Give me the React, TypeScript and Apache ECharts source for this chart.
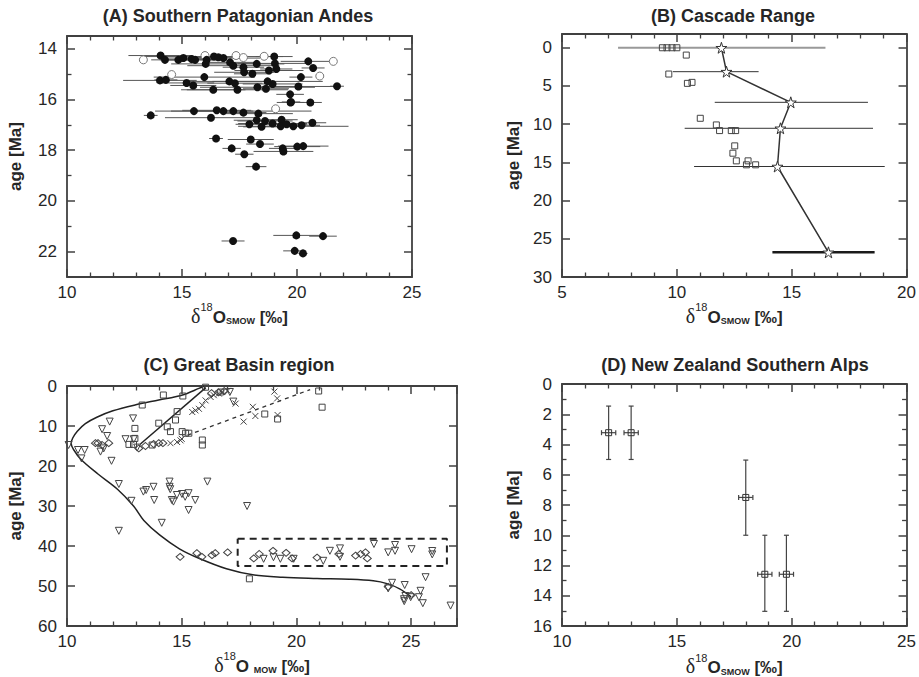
import { useEffect, useRef } from 'react';
import * as echarts from 'echarts';

const F = '"Liberation Sans", Arial, Helvetica, sans-serif';
const INK = '#262626';
const AX = '#404040';

// ---------- Panel A: Southern Patagonian Andes ----------
// [d18O, age, half-width of error bar]
const aFilled: number[][] = [
  [14.07, 14.27, 1.4], [14.26, 14.44, 0.6], [14.84, 14.44, 0.8], [15.06, 14.37, 1.0], [15.42, 14.41, 0.7],
  [15.57, 14.44, 1.2], [16.03, 14.6, 1.5], [16.07, 14.44, 0.9], [16.39, 14.31, 3.0], [16.58, 14.34, 1.0],
  [16.8, 14.37, 1.6], [17.09, 14.54, 1.1], [17.23, 14.67, 2.0], [17.67, 14.73, 0.9], [17.7, 14.93, 1.3],
  [18.06, 14.99, 0.8], [18.25, 14.6, 1.2], [18.78, 14.86, 1.5], [19.01, 14.31, 0.8], [19.04, 14.58, 1.6],
  [19.1, 14.8, 0.7], [20.49, 14.5, 1.2], [20.7, 14.76, 0.5], [14.04, 15.25, 1.6], [14.3, 15.23, 0.5],
  [15.2, 15.35, 1.2], [15.49, 15.45, 1.0], [15.97, 15.12, 2.2], [16.36, 15.62, 1.4], [17.06, 15.29, 1.8],
  [17.3, 15.36, 1.2], [17.41, 15.62, 2.2], [18.28, 15.52, 2.5], [18.65, 15.58, 1.0], [18.72, 15.29, 2.4],
  [18.94, 15.39, 1.3], [19.7, 15.8, 0.6], [19.74, 16.1, 0.4], [20.06, 15.49, 1.6], [20.17, 15.12, 0.5],
  [21.74, 15.48, 0.3], [20.58, 16.12, 0.5], [19.72, 16.12, 0.6], [13.64, 16.63, 0.3], [15.52, 16.46, 1.0],
  [16.26, 16.72, 2.0], [16.51, 16.43, 1.5], [16.8, 16.46, 1.3], [17.23, 16.46, 3.4], [17.67, 16.52, 1.0],
  [18.32, 16.56, 1.5], [17.93, 16.98, 0.6], [18.25, 16.82, 1.0], [18.46, 17.08, 0.8], [18.61, 16.85, 1.2],
  [18.94, 16.95, 1.5], [19.33, 16.8, 0.7], [19.29, 17.06, 1.0], [19.55, 16.98, 0.9], [19.84, 17.06, 2.4],
  [20.2, 17.02, 0.8], [20.67, 16.92, 0.6], [16.48, 17.54, 0.3], [17.16, 17.93, 0.4], [17.71, 18.16, 0.4],
  [17.99, 17.58, 1.0], [18.39, 17.76, 0.6], [19.38, 17.93, 0.6], [19.41, 18.05, 1.3], [20.01, 17.86, 1.0],
  [20.27, 17.84, 1.1], [18.22, 18.65, 0.45], [19.97, 21.36, 1.0], [21.13, 21.39, 0.6], [17.22, 21.58, 0.5],
  [19.9, 21.97, 0.5], [20.26, 22.07, 0.2],
];
const aOpen: number[][] = [
  [13.32, 14.44], [14.55, 15.02], [16.0, 14.27], [17.35, 14.27], [17.67, 14.35], [18.57, 14.3],
  [19.07, 16.37], [20.99, 15.08], [21.58, 14.5],
];

// ---------- Panel B: Cascade Range ----------
// [d18O, age, error low, error high]
const bStars: number[][] = [
  [11.94, 0.0, 7.44, 16.47], [12.16, 3.13, 9.83, 13.56], [14.96, 7.14, 11.65, 18.32],
  [14.51, 10.54, 10.34, 18.54], [14.38, 15.54, 10.75, 19.05], [16.6, 26.77, 14.16, 18.61],
];
const bSquares: number[][] = [
  [9.37, 0.0], [9.57, 0.0], [9.79, 0.0], [10.0, 0.0], [10.41, 0.96], [9.65, 3.44], [10.46, 4.66],
  [10.66, 4.53], [11.02, 9.23], [11.72, 10.1], [11.86, 10.84], [12.37, 10.84], [12.56, 10.84],
  [12.52, 12.84], [12.44, 13.8], [12.59, 14.8], [13.1, 14.8], [13.03, 15.32], [13.43, 15.32],
];

// ---------- Panel C: Great Basin region ----------
const cCurve: number[][] = [
  [15.97, 0.0], [15.75, 0.6], [15.0, 2.3], [14.0, 3.5], [13.0, 4.7], [12.0, 6.2], [11.3, 7.8],
  [10.8, 9.4], [10.45, 11.3], [10.25, 13.0], [10.18, 14.4], [10.3, 16.0], [10.6, 18.3], [11.35, 22.0],
  [12.2, 25.8], [12.9, 30.0], [13.35, 33.6], [14.05, 37.3], [14.9, 40.7], [15.8, 43.2], [16.95, 45.7],
  [18.1, 47.2], [19.4, 47.8], [20.9, 48.1], [22.3, 48.3], [23.35, 48.7], [23.95, 49.4], [24.5, 50.7],
  [25.0, 52.7],
];
const cLine2: number[][] = [[13.2, 14.5], [16.05, 0.4]];
const cDashed: number[][] = [[15.25, 12.3], [20.6, 0.9]];
const cBox: number[][] = [[17.44, 38.2], [26.56, 38.2], [26.56, 45.0], [17.44, 45.0], [17.44, 38.2]];
const cSquares: number[][] = [
  [14.2, 2.25], [15.05, 2.5], [13.28, 4.75], [12.96, 10.6], [12.96, 13.1], [12.7, 14.6], [12.9, 14.6],
  [13.71, 14.75], [14.0, 9.3], [14.37, 10.2], [14.51, 11.4], [14.73, 8.5], [14.8, 6.4], [15.02, 11.4],
  [15.17, 11.8], [15.31, 11.8], [15.9, 13.5], [15.9, 14.75], [16.04, 0.3], [16.7, 1.5], [18.62, 7.0],
  [19.18, 8.25], [20.97, 1.25], [21.12, 5.3], [17.95, 48.2],
];
const cTriangles: number[][] = [
  [10.07, 14.75], [10.48, 16.0], [10.77, 16.0], [10.63, 18.1], [11.53, 10.8], [11.75, 12.5], [11.86, 8.9],
  [11.46, 16.4], [11.6, 15.6], [11.94, 18.7], [12.88, 8.1], [12.55, 13.3], [12.91, 13.3], [13.06, 15.4],
  [12.26, 24.5], [12.26, 36.2], [12.81, 28.7], [13.33, 26.4], [13.45, 26.0], [13.77, 25.2], [13.8, 28.5],
  [14.13, 34.2], [14.47, 23.9], [14.47, 25.2], [14.5, 25.8], [14.57, 28.5], [14.64, 28.9], [14.79, 27.25],
  [15.01, 27.0], [15.15, 27.7], [15.3, 26.8], [15.59, 28.5], [15.3, 31.0], [16.12, 23.9], [17.85, 30.0],
  [17.1, 1.5], [17.25, 3.9], [18.57, 43.2], [19.0, 42.8], [19.3, 43.2], [19.88, 43.2], [21.17, 43.7],
  [21.46, 41.2], [21.9, 40.6], [21.9, 42.7], [23.38, 39.5], [24.0, 41.6], [24.3, 39.75], [24.3, 41.2],
  [25.02, 40.8], [25.92, 41.25], [25.92, 42.1], [24.17, 49.2], [24.0, 50.6], [24.72, 49.75], [24.69, 53.3],
  [24.75, 52.5], [24.98, 52.8], [25.41, 51.2], [25.34, 52.8], [25.51, 54.3], [25.63, 47.8], [26.72, 54.9],
  [24.7, 53.8],
];
const cDiamonds: number[][] = [
  [11.24, 14.3], [11.35, 14.3], [11.53, 14.75], [11.82, 14.3], [13.13, 15.6], [13.42, 15.0], [13.78, 14.5],
  [14.0, 14.3], [14.18, 14.3], [16.3, 1.8], [16.6, 1.6], [16.85, 1.3], [14.93, 42.7], [15.66, 41.8],
  [15.88, 42.7], [16.32, 42.3], [16.46, 41.8], [17.0, 41.6], [18.14, 43.1], [18.38, 42.0], [18.98, 41.2],
  [19.55, 41.7], [19.81, 43.1], [20.9, 42.9], [21.85, 42.0], [22.58, 42.4], [22.8, 42.0], [23.01, 41.6],
  [23.09, 43.1], [24.0, 50.2], [25.0, 52.3],
];
const cCrosses: number[][] = [
  [14.51, 14.3], [14.8, 14.0], [14.95, 13.6], [15.0, 13.2], [15.46, 6.5], [15.6, 6.1], [15.75, 5.7],
  [15.9, 4.8], [16.04, 3.6], [16.26, 2.75], [16.4, 2.3], [16.62, 1.9], [16.77, 1.5], [17.0, 1.2],
  [17.35, 4.4], [17.7, 8.9], [18.1, 5.2], [18.21, 7.5], [19.04, 1.4], [19.16, 3.1], [19.18, 7.25],
];

// ---------- Panel D: New Zealand Southern Alps ----------
// [d18O, age, x half-error, age low, age high]
const dPoints: number[][] = [
  [12.03, 3.22, 0.31, 1.46, 4.99], [13.01, 3.22, 0.31, 1.46, 4.99], [18.0, 7.5, 0.31, 5.03, 10.0],
  [18.83, 12.58, 0.31, 10.0, 15.03], [19.77, 12.58, 0.31, 10.0, 15.03],
];

// ---------- Axis ranges and tick labels ----------
const aXRange = [10, 25]; const aYRange = [13.5, 23];
const bXRange = [5, 20]; const bYRange = [-1.8, 30];
const cXRange = [10, 27]; const cYRange = [0, 60];
const dXRange = [10, 25]; const dYRange = [0, 16];
const aXLabels = [10, 15, 20, 25];
const aYLabels = [14, 16, 18, 20, 22];
const bXLabels = [5, 10, 15, 20];
const bYLabels = [0, 5, 10, 15, 20, 25, 30];
const cXLabels = [10, 15, 20, 25];
const cYLabels = [0, 10, 20, 30, 40, 50, 60];
const dXLabels = [10, 15, 20, 25];
const dYLabels = [0, 2, 4, 6, 8, 10, 12, 14, 16];

const titles = ['(A) Southern Patagonian Andes', '(B) Cascade Range', '(C) Great Basin region', '(D) New Zealand Southern Alps'];
const xNameSmow = '{d|δ}{s|18}{o|O}{b|SMOW}{o| [‰]}';
const xNameMow = '{d|δ}{s|18}{o|O }{b|MOW}{o| [‰]}';

const richName = {
  d: { fontFamily: '"Liberation Serif", "DejaVu Serif", serif', fontSize: 20, color: INK, lineHeight: 24, verticalAlign: 'bottom' },
  s: { fontFamily: F, fontSize: 11, color: INK, lineHeight: 12, verticalAlign: 'top' },
  o: { fontFamily: F, fontSize: 17, fontWeight: 'bold', color: INK, lineHeight: 24, verticalAlign: 'bottom' },
  b: { fontFamily: F, fontSize: 9, fontWeight: 'bold', color: INK, lineHeight: 9, verticalAlign: 'bottom' },
};

type TickSpec = { interval?: number; splitNumber?: number; minor: number };

// Two axes per dimension and panel: the labelled one (bottom / left) and a mirror (top / right) for the frame.
function makeAxes(dim: 'x' | 'y', gi: number, ext: number[], labels: number[], tk: TickSpec, name: string, nameGap: number) {
  const isX = dim === 'x';
  const base: any = {
    type: 'value', gridIndex: gi, min: ext[0], max: ext[1], inverse: !isX,
    splitLine: { show: false },
    minorSplitLine: { show: false },
    axisLine: { show: true, onZero: false, lineStyle: { color: AX, width: 1.8 } },
    axisTick: { show: true, inside: true, length: 8, lineStyle: { color: AX, width: 1.5 } },
    minorTick: { show: tk.minor > 0, splitNumber: tk.minor || 5, length: 4.5, lineStyle: { color: AX, width: 1.3 } },
  };
  if (tk.interval !== undefined) base.interval = tk.interval;
  if (tk.splitNumber !== undefined) base.splitNumber = tk.splitNumber;
  const main = {
    ...base,
    position: isX ? 'bottom' : 'left',
    axisLabel: { show: true, customValues: labels, margin: isX ? 7 : 10, color: INK, fontSize: 17, fontFamily: F },
    name,
    nameLocation: 'middle',
    nameGap,
    nameTextStyle: isX ? { rich: richName } : { fontFamily: F, fontSize: 17, fontWeight: 'bold', color: INK },
  };
  const mirror = { ...base, position: isX ? 'top' : 'right', axisLabel: { show: false } };
  return [main, mirror];
}

const lineShape = (a: number[], b: number[]) => ({ x1: a[0], y1: a[1], x2: b[0], y2: b[1] });

export default function App() {
  const ref = useRef<HTMLDivElement>(null);
  useEffect(() => {
    if (!ref.current) return;
    const chart = echarts.init(ref.current, undefined, { renderer: 'svg' });

    const grids = [
      { left: 67, top: 36, width: 345, height: 241 },
      { left: 562, top: 34, width: 345, height: 243 },
      { left: 67, top: 386, width: 390, height: 240 },
      { left: 562, top: 384, width: 346, height: 242 },
    ];

    const xAxis = [
      ...makeAxes('x', 0, aXRange, aXLabels, { interval: 5, minor: 5 }, xNameSmow, 15),
      ...makeAxes('x', 1, bXRange, bXLabels, { interval: 5, minor: 5 }, xNameSmow, 15),
      ...makeAxes('x', 2, cXRange, cXLabels, { interval: 5, minor: 5 }, xNameMow, 23),
      ...makeAxes('x', 3, dXRange, dXLabels, { interval: 5, minor: 5 }, xNameSmow, 26),
    ];
    const yAxis = [
      ...makeAxes('y', 0, aYRange, aYLabels, { splitNumber: 5, minor: 2 }, 'age [Ma]', 43),
      ...makeAxes('y', 1, bYRange, bYLabels, { splitNumber: 6, minor: 0 }, 'age [Ma]', 40),
      ...makeAxes('y', 2, cYRange, cYLabels, { interval: 10, minor: 0 }, 'age [Ma]', 43),
      ...makeAxes('y', 3, dYRange, dYLabels, { interval: 2, minor: 2 }, 'age [Ma]', 40),
    ];
    const ax = (p: number) => ({ xAxisIndex: 2 * p, yAxisIndex: 2 * p });

    const openStyle = (c: string) => ({ color: 'rgba(0,0,0,0)', borderColor: c, borderWidth: 1, opacity: 1 });
    const starPath = 'path://M50,0 L61,35 L98,35 L68,57 L79,91 L50,70 L21,91 L32,57 L2,35 L39,35 Z';
    const crossPath = 'path://M0,0 L10,10 M10,0 L0,10';

    const series: any[] = [
      // ---- A ----
      {
        type: 'custom', ...ax(0), data: aFilled, silent: true, z: 1,
        dimensions: ['x', 'y', 'e'], encode: { x: 0, y: 1 },
        renderItem: (_p: any, api: any) => {
          const x = api.value(0), y = api.value(1), e = api.value(2);
          return { type: 'line', shape: lineShape(api.coord([x - e, y]), api.coord([x + e, y])), style: { stroke: '#555', lineWidth: 1 } };
        },
      },
      { type: 'scatter', ...ax(0), data: aFilled.map(d => [d[0], d[1]]), symbol: 'circle', symbolSize: 8, itemStyle: { color: '#111', opacity: 1 }, z: 3 },
      { type: 'scatter', ...ax(0), data: aOpen, symbol: 'circle', symbolSize: 8, itemStyle: { color: '#fff', borderColor: '#777', borderWidth: 1, opacity: 1 }, z: 2 },
      // ---- B ----
      {
        type: 'custom', ...ax(1), data: bStars, silent: true, z: 1,
        dimensions: ['x', 'y', 'lo', 'hi'], encode: { x: 0, y: 1 },
        renderItem: (p: any, api: any) => {
          const y = api.value(1), lo = api.value(2), hi = api.value(3);
          const last = p.dataIndex === bStars.length - 1;
          const first = p.dataIndex === 0;
          const style = first ? { stroke: '#999', lineWidth: 2 } : last ? { stroke: '#1a1a1a', lineWidth: 2.5 } : { stroke: '#333', lineWidth: 1 };
          return { type: 'line', shape: lineShape(api.coord([lo, y]), api.coord([hi, y])), style };
        },
      },
      { type: 'line', ...ax(1), data: bStars.map(d => [d[0], d[1]]), showSymbol: false, lineStyle: { color: '#333', width: 1.5 }, z: 2 },
      { type: 'scatter', ...ax(1), data: bStars.map(d => [d[0], d[1]]), symbol: starPath, symbolSize: 11, itemStyle: { color: '#fff', borderColor: '#333', borderWidth: 1, opacity: 1 }, z: 4 },
      { type: 'scatter', ...ax(1), data: bSquares, symbol: 'rect', symbolSize: 6, itemStyle: openStyle('#444'), z: 3 },
      // ---- C ----
      { type: 'line', ...ax(2), data: cCurve, smooth: 0.35, showSymbol: false, lineStyle: { color: '#222', width: 1.5 }, z: 2 },
      { type: 'line', ...ax(2), data: cLine2, showSymbol: false, lineStyle: { color: '#222', width: 1.5 }, z: 2 },
      { type: 'line', ...ax(2), data: cDashed, showSymbol: false, lineStyle: { color: '#333', width: 1.3, type: [4, 4] }, z: 2 },
      { type: 'line', ...ax(2), data: cBox, showSymbol: false, lineStyle: { color: '#222', width: 2, type: [7, 5] }, z: 2 },
      { type: 'scatter', ...ax(2), data: cSquares, symbol: 'rect', symbolSize: 6, itemStyle: openStyle('#444'), z: 3 },
      { type: 'scatter', ...ax(2), data: cTriangles, symbol: 'triangle', symbolRotate: 180, symbolSize: 7, itemStyle: openStyle('#444'), z: 3 },
      { type: 'scatter', ...ax(2), data: cDiamonds, symbol: 'diamond', symbolSize: [8, 7], itemStyle: openStyle('#444'), z: 3 },
      { type: 'scatter', ...ax(2), data: cCrosses, symbol: crossPath, symbolSize: 6, itemStyle: openStyle('#444'), z: 3 },
      // ---- D ----
      {
        type: 'custom', ...ax(3), data: dPoints, silent: true, z: 1,
        dimensions: ['x', 'y', 'xe', 'ylo', 'yhi'], encode: { x: 0, y: 1 },
        renderItem: (_p: any, api: any) => {
          const x = api.value(0), y = api.value(1), xe = api.value(2), ylo = api.value(3), yhi = api.value(4);
          const l = api.coord([x - xe, y]), r = api.coord([x + xe, y]);
          const t = api.coord([x, ylo]), b = api.coord([x, yhi]);
          const st = { stroke: '#444', lineWidth: 1.2 };
          const cap = 2.5;
          return {
            type: 'group',
            children: [
              { type: 'line', shape: lineShape(l, r), style: st },
              { type: 'line', shape: { x1: l[0], y1: l[1] - cap, x2: l[0], y2: l[1] + cap }, style: st },
              { type: 'line', shape: { x1: r[0], y1: r[1] - cap, x2: r[0], y2: r[1] + cap }, style: st },
              { type: 'line', shape: lineShape(t, b), style: st },
              { type: 'line', shape: { x1: t[0] - cap, y1: t[1], x2: t[0] + cap, y2: t[1] }, style: st },
              { type: 'line', shape: { x1: b[0] - cap, y1: b[1], x2: b[0] + cap, y2: b[1] }, style: st },
            ],
          };
        },
      },
      { type: 'scatter', ...ax(3), data: dPoints.map(d => [d[0], d[1]]), symbol: 'rect', symbolSize: 6, itemStyle: openStyle('#333'), z: 3 },
    ];

    const titlePos = [[238, 16], [733, 16], [239, 365], [735, 365]];
    const titleEls: any[] = titles.map((t, i) => ({
      type: 'text', x: titlePos[i][0], y: titlePos[i][1], silent: true,
      style: { text: t, fontSize: 18, fontWeight: 'bold', fontFamily: F, fill: INK, align: 'center', verticalAlign: 'middle' },
    }));

    chart.setOption({
      animation: false,
      backgroundColor: '#fff',
      textStyle: { fontFamily: F },
      grid: grids,
      xAxis,
      yAxis,
      series,
      graphic: { elements: titleEls },
    });

    return () => chart.dispose();
  }, []);
  return <div ref={ref} style={{ position: 'fixed', left: 0, top: 0, width: 919, height: 677, background: '#fff' }} />;
}
